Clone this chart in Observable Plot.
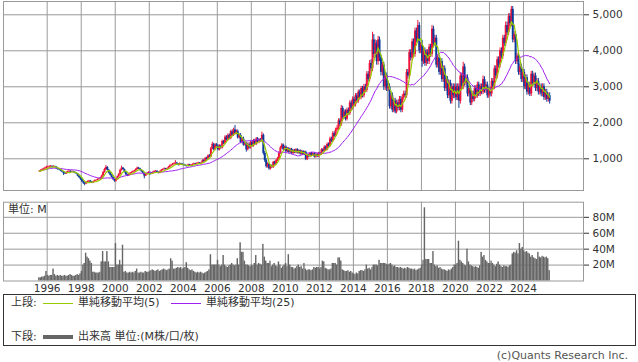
<!DOCTYPE html>
<html><head><meta charset="utf-8">
<script src="https://cdn.jsdelivr.net/npm/d3@7"></script>
<script src="https://cdn.jsdelivr.net/npm/@observablehq/plot@0.6"></script>
<style>
html,body{margin:0;padding:0;background:#fff;}
body{font-family:"DejaVu Sans","Noto Sans CJK JP",sans-serif;color:#333;}
#wrap{position:relative;width:638px;height:362px;overflow:hidden;}
#wrap svg{position:absolute;left:0;}
.t{position:absolute;font-size:11px;line-height:12px;white-space:nowrap;font-family:"DejaVu Sans","Noto Sans CJK JP",sans-serif;}
.ln{position:absolute;height:0;}
</style></head>
<body><div id="wrap"></div>
<script>
// monthly data: Jul 1995 .. Jul 2025 (one row per year from 1996)
const open = [
640,650,680,700,720,740,
760,770,780,790,760,780,770,720,700,690,660,630,
600,580,620,640,650,630,640,620,600,580,520,480,
430,360,320,300,340,360,380,350,330,360,390,400,
420,430,460,520,620,700,760,680,600,540,480,420,
380,420,500,560,680,740,700,620,560,530,560,600,
620,640,660,700,740,720,680,640,600,520,560,600,
620,600,580,620,640,650,620,600,640,680,700,720,
700,720,760,800,820,840,860,880,850,820,860,840,
830,810,800,790,830,800,820,840,860,850,870,880,
860,880,950,920,1010,990,1080,1050,1280,1400,1250,1380,
1350,1250,1350,1300,1480,1420,1600,1520,1650,1560,1750,1650,
1800,1700,1750,1580,1650,1450,1550,1380,1420,1250,1400,1300,
1450,1350,1500,1400,1550,1450,1520,1480,1650,1150,950,780,
850,720,800,760,900,850,950,1000,1150,1300,1380,1250,
1320,1200,1280,1180,1260,1150,1230,1170,1250,1160,1220,1130,
1200,1120,1180,980,1100,1060,1150,1090,1140,1050,1120,1060,
1150,1120,1250,1200,1320,1250,1400,1350,1550,1480,1700,1620,
1800,1850,2050,1950,2400,2150,2300,2100,2350,2250,2550,2400,
2650,2500,2750,2600,2850,2700,2950,2750,3000,2900,3350,3200,
3650,3500,4300,3900,4200,3700,4300,3800,3400,3600,3000,3300,
2950,3000,2450,2750,2350,2600,2300,2550,2400,2650,2350,2700,
2800,2750,3400,3300,3950,3800,4250,3900,4550,4300,4700,4000,
4150,3700,4000,3650,3950,3700,4100,3900,4600,4200,4350,3600,
3800,3400,3700,3200,3500,2950,3200,2750,3100,2600,3000,2750,
3000,2700,3000,2600,3300,3000,3550,3100,3250,2800,2950,2550,
2800,2650,2950,2750,3050,2800,3000,2850,3200,2900,3050,2750,
2900,2800,3150,3000,3500,3300,3750,3600,4000,3850,4350,4200,
4700,4500,4950,4750,5150,4300,4450,3700,3850,3400,3550,3200,
3400,3000,3250,2850,3050,2800,3350,3100,3300,2950,3150,2850,
3000,2800,3000,2700,2850,2650,2750
];
const high = [
670,700,720,740,770,790,
800,805,815,800,805,795,780,740,720,705,680,650,
620,640,660,675,665,660,655,635,615,590,540,500,
450,380,340,360,385,400,395,370,380,410,420,445,
450,485,545,650,735,815,780,700,620,560,500,440,
440,520,590,710,795,760,715,640,575,580,620,640,
665,680,725,770,760,735,695,655,615,575,620,640,
635,615,640,665,675,670,635,660,700,720,745,735,
740,785,830,850,870,890,950,900,865,885,875,860,
850,830,820,850,845,840,860,880,875,890,905,895,
905,975,975,1040,1045,1110,1115,1320,1460,1430,1420,1420,
1390,1390,1380,1520,1510,1640,1640,1690,1690,1790,1800,1850,
1925,1800,1800,1690,1700,1590,1600,1460,1460,1440,1440,1490,
1490,1540,1540,1590,1590,1560,1560,1740,1690,1200,1000,890,
880,830,830,930,930,980,1040,1190,1340,1420,1410,1350,
1350,1310,1310,1290,1290,1260,1260,1280,1280,1250,1250,1230,
1230,1210,1210,1130,1130,1180,1180,1170,1170,1150,1150,1180,
1180,1280,1280,1360,1360,1440,1440,1600,1600,1750,1750,1850,
1920,2110,2110,2480,2460,2360,2360,2410,2410,2610,2610,2720,
2710,2810,2810,2910,2910,3010,3010,3070,3070,3420,3420,3730,
3750,4515,4450,4300,4280,4400,4380,3880,3680,3680,3380,3380,
3080,3080,2830,2830,2680,2680,2630,2630,2730,2730,2780,2880,
2880,3480,3480,4030,4030,4330,4330,4630,4630,4840,4780,4230,
4290,4080,4080,4030,4030,4180,4180,4700,4680,4430,4430,3880,
3880,3780,3780,3580,3580,3280,3280,3180,3180,3080,3080,3080,
3080,3080,3080,3380,3380,3680,3630,3330,3330,3030,3030,2880,
2880,3030,3030,3130,3130,3080,3080,3300,3280,3130,3130,2980,
2980,3230,3230,3580,3580,3830,3830,4080,4080,4430,4430,4800,
4800,5030,5030,5230,5230,4530,4530,3930,3930,3630,3630,3480,
3480,3330,3330,3130,3130,3430,3430,3380,3380,3230,3230,3080,
3080,3080,3080,2930,2930,2830,2830
];
const low = [
620,635,665,685,705,725,
740,750,760,740,745,750,705,680,670,640,610,540,
560,565,605,625,615,615,605,585,560,500,450,400,
340,290,250,285,325,345,335,310,315,345,375,390,
405,415,450,505,600,680,660,580,525,465,400,350,
350,405,485,545,660,685,605,540,505,515,545,585,
600,625,645,685,705,665,625,580,445,505,545,585,
535,560,565,605,625,605,580,585,625,665,685,685,
685,705,745,785,805,825,845,830,800,805,825,810,
795,780,770,775,785,790,805,825,830,835,855,845,
840,865,900,900,965,970,1030,1030,1250,1220,1225,1320,
1220,1220,1270,1270,1390,1390,1490,1490,1530,1530,1620,1620,
1670,1670,1550,1550,1420,1420,1350,1350,1185,1220,1270,1270,
1320,1320,1370,1370,1420,1420,1450,1450,1100,900,740,740,
680,690,730,730,820,820,920,970,1120,1270,1220,1220,
1170,1170,1150,1150,1120,1120,1140,1140,1130,1130,1100,1100,
1090,1090,950,950,1030,1030,1060,1060,1020,1020,1030,1030,
1090,1090,1170,1170,1220,1220,1320,1320,1450,1450,1590,1590,
1750,1800,1900,1900,2100,2100,2050,2050,2200,2200,2350,2350,
2440,2440,2540,2540,2640,2640,2690,2690,2840,2840,3130,3130,
3420,3420,3800,3800,3600,3600,3700,3300,3300,2900,2900,2870,
2870,2380,2380,2280,2280,2250,2250,2330,2330,2280,2280,2630,
2680,2680,3220,3220,3720,3720,3820,3820,4220,4220,3920,3920,
3540,3620,3570,3570,3620,3620,3820,3820,4120,4120,3520,3520,
3320,3320,3120,3120,2870,2870,2670,2670,2520,2520,2670,2670,
2620,2620,2400,2520,2920,2920,3020,3020,2720,2720,2480,2480,
2580,2580,2680,2680,2730,2730,2780,2780,2820,2820,2680,2680,
2720,2720,2920,2920,3220,3220,3520,3520,3770,3770,4120,4120,
4420,4420,4670,4670,4220,4220,3620,3620,3320,3320,3120,3120,
2920,2920,2770,2770,2730,2730,3020,3020,2870,2870,2770,2770,
2720,2720,2620,2620,2570,2570,2520
];
const close = [
650,680,700,720,740,760,
770,780,790,760,780,770,720,700,690,660,630,600,
580,620,640,650,630,640,620,600,580,520,480,430,
360,320,300,340,360,380,350,330,360,390,400,420,
430,460,520,620,700,760,680,600,540,480,420,380,
420,500,560,680,740,700,620,560,530,560,600,620,
640,660,700,740,720,680,640,600,520,560,600,620,
600,580,620,640,650,620,600,640,680,700,720,700,
720,760,800,820,840,860,880,850,820,860,840,830,
810,800,790,830,800,820,840,860,850,870,880,860,
880,950,920,1010,990,1080,1050,1280,1400,1250,1380,1350,
1250,1350,1300,1480,1420,1600,1520,1650,1560,1750,1650,1800,
1700,1750,1580,1650,1450,1550,1380,1420,1250,1400,1300,1450,
1350,1500,1400,1550,1450,1520,1480,1650,1150,950,780,850,
720,800,760,900,850,950,1000,1150,1300,1380,1250,1320,
1200,1280,1180,1260,1150,1230,1170,1250,1160,1220,1130,1200,
1120,1180,980,1100,1060,1150,1090,1140,1050,1120,1060,1150,
1120,1250,1200,1320,1250,1400,1350,1550,1480,1700,1620,1800,
1850,2050,1950,2400,2150,2300,2100,2350,2250,2550,2400,2650,
2500,2750,2600,2850,2700,2950,2750,3000,2900,3350,3200,3650,
3500,4300,3900,4200,3700,4300,3800,3400,3600,3000,3300,2950,
3000,2450,2750,2350,2600,2300,2550,2400,2650,2350,2700,2800,
2750,3400,3300,3950,3800,4250,3900,4550,4300,4700,4000,4150,
3700,4000,3650,3950,3700,4100,3900,4600,4200,4350,3600,3800,
3400,3700,3200,3500,2950,3200,2750,3100,2600,3000,2750,3000,
2700,3000,2600,3300,3000,3550,3100,3250,2800,2950,2550,2800,
2650,2950,2750,3050,2800,3000,2850,3200,2900,3050,2750,2900,
2800,3150,3000,3500,3300,3750,3600,4000,3850,4350,4200,4700,
4500,4950,4750,5150,4300,4450,3700,3850,3400,3550,3200,3400,
3000,3250,2850,3050,2800,3350,3100,3300,2950,3150,2850,3000,
2800,3000,2700,2850,2650,2750,2600
];
// volume, millions
const volume = [
4,4,5,5,6,12,
7,6,7,7,15,8,6,7,6,7,6,6,
7,6,6,7,8,7,6,6,7,8,7,9,
12,20,22,35,30,28,25,22,11,11,10,10,
10,11,24,37,24,24,37,24,17,17,17,17,
47,20,20,26,20,45,11,12,10,10,11,10,
11,10,12,15,10,10,11,10,10,12,11,11,
12,13,14,13,12,13,14,12,13,14,15,14,
13,14,15,28,25,15,15,16,17,16,17,15,
16,17,23,16,14,13,14,12,11,10,11,10,
11,10,9,10,11,12,14,33,20,20,20,20,
26,20,18,20,32,20,18,17,19,20,22,20,
19,20,28,20,48,36,36,25,20,20,19,18,
20,19,22,32,20,22,21,20,46,30,25,22,
22,25,18,20,22,19,18,24,20,16,18,20,
22,18,33,20,17,17,15,16,18,20,17,18,
15,22,15,13,14,14,13,14,17,16,17,17,
15,17,25,24,16,15,14,14,15,22,22,22,
20,29,29,25,14,13,12,12,13,11,12,10,
9,8,10,9,12,13,13,12,14,20,15,16,
14,17,20,20,20,19,26,22,22,22,22,21,
20,21,22,20,18,19,17,17,16,17,16,15,
16,15,17,16,15,15,14,15,13,14,15,16,
20,26,92,27,27,27,22,22,37,20,18,19,
16,17,15,14,14,13,12,14,13,15,17,20,
20,22,50,26,24,22,20,19,40,24,20,19,
18,17,18,17,16,19,36,30,32,26,24,22,
22,25,22,20,18,21,24,20,18,17,19,18,
18,17,19,20,34,36,35,38,34,47,40,42,
38,36,37,35,34,30,32,29,28,27,36,30,
29,31,30,29,30,28,13
];
const gridYears = [1996,1998,2000,2002,2004,2006,2008,2010,2012,2014,2016,2018,2020,2022,2024];
const priceTicks = [1000,2000,3000,4000,5000];
const volumeTicks = [20,40,60,80];
const legendMA5 = "単純移動平均(5)";
const legendMA25 = "単純移動平均(25)";
const legendVol = "出来高 単位:(M株/口/枚)";

const UP = "#f0143c", DOWN = "#0a3c9c", MA5C = "#99cc00", MA25C = "#a020f0", GRID = "#9a9a9a";

const months = d3.utcMonth.range(new Date(Date.UTC(1995, 6, 1)), new Date(Date.UTC(2025, 7, 1)));
const data = months.map((m, i) => ({
  date: m, next: d3.utcMonth.offset(m, 1), mid: d3.utcDay.offset(m, 15),
  open: open[i], high: high[i], low: low[i], close: close[i], vol: volume[i],
  col: close[i] >= open[i] ? UP : DOWN
}));
const gridDates = gridYears.map(y => new Date(Date.UTC(y, 0, 1)));
const xDomain = [new Date(Date.UTC(1993, 5, 7)), new Date(Date.UTC(2027, 6, 13))];
const fontStyle = {fontSize: "10.5px", fontFamily: "DejaVu Sans, Noto Sans CJK JP, sans-serif", color: "#333", background: "transparent", overflow: "visible"};

const priceChart = Plot.plot({
  width: 638, height: 192,
  marginLeft: 3, marginRight: 55, marginTop: 1, marginBottom: 2,
  style: fontStyle,
  x: {type: "utc", domain: xDomain, axis: null},
  y: {domain: [119, 5369], axis: "right", ticks: priceTicks, tickFormat: d3.format(","), tickSize: 5, tickPadding: 4, label: null},
  color: {type: "identity"},
  marks: [
    Plot.ruleX(gridDates, {stroke: GRID, strokeWidth: 1}),
    Plot.ruleY(priceTicks, {stroke: GRID, strokeWidth: 1}),
    Plot.frame({stroke: GRID}),
    Plot.ruleX(data, {x: "mid", y1: "low", y2: "high", stroke: "col", strokeWidth: 1}),
    Plot.ruleX(data, {x: "mid", y1: "open", y2: "close", stroke: "col", strokeWidth: 2}),
    Plot.lineY(data, Plot.windowY({k: 25, anchor: "end"}, {x: "mid", y: "close", stroke: MA25C, strokeWidth: 1})),
    Plot.lineY(data, Plot.windowY({k: 5, anchor: "end"}, {x: "mid", y: "close", stroke: MA5C, strokeWidth: 1.2}))
  ]
});
priceChart.style.top = "0px";

const volumeChart = Plot.plot({
  width: 638, height: 96,
  marginLeft: 3, marginRight: 55, marginTop: 1.7, marginBottom: 15.5,
  style: fontStyle,
  x: {type: "utc", domain: xDomain, axis: "bottom", ticks: gridDates, tickFormat: d3.utcFormat("%Y"), tickSize: 0, tickPadding: 4, label: null},
  y: {domain: [0, 99], axis: "right", ticks: volumeTicks, tickFormat: d => d + "M", tickSize: 5, tickPadding: 4, label: null},
  marks: [
    Plot.ruleX(gridDates, {stroke: GRID, strokeWidth: 1}),
    Plot.ruleY(volumeTicks, {stroke: GRID, strokeWidth: 1}),
    Plot.rectY(data, {x1: "date", x2: "next", y: "vol", fill: "#666666", insetLeft: 0, insetRight: 0}),
    Plot.frame({stroke: GRID})
  ]
});
volumeChart.style.top = "200px";

const wrap = document.getElementById("wrap");
wrap.appendChild(priceChart);
wrap.appendChild(volumeChart);

function txt(s, left, topY, extra) {
  const d = document.createElement("div");
  d.className = "t"; d.textContent = s;
  d.style.left = left + "px"; d.style.top = topY + "px";
  if (extra) Object.assign(d.style, extra);
  wrap.appendChild(d); return d;
}
function line(left, width, y, color, thick) {
  const d = document.createElement("div");
  d.className = "ln";
  d.style.left = left + "px"; d.style.width = width + "px";
  d.style.top = Math.round(y - thick / 2) + "px"; d.style.borderTop = thick + "px solid " + color;
  wrap.appendChild(d);
}
txt("単位: M", 8, 204);
const box = document.createElement("div");
Object.assign(box.style, {position: "absolute", left: "3px", top: "294px", width: "633px", height: "52px", border: "1px solid #333", boxSizing: "border-box"});
wrap.appendChild(box);
txt("上段:", 11, 297);
line(43, 30, 303, MA5C, 1);
txt(legendMA5, 78, 297);
line(171, 30, 303, MA25C, 1);
txt(legendMA25, 206, 297);
txt("下段:", 11, 331);
line(43, 30, 337, "#666666", 4);
txt(legendVol, 78, 331);
txt("(c)Quants Research Inc.", 0, 350, {left: "auto", right: "10px", color: "#555"});
</script>
</body></html>
